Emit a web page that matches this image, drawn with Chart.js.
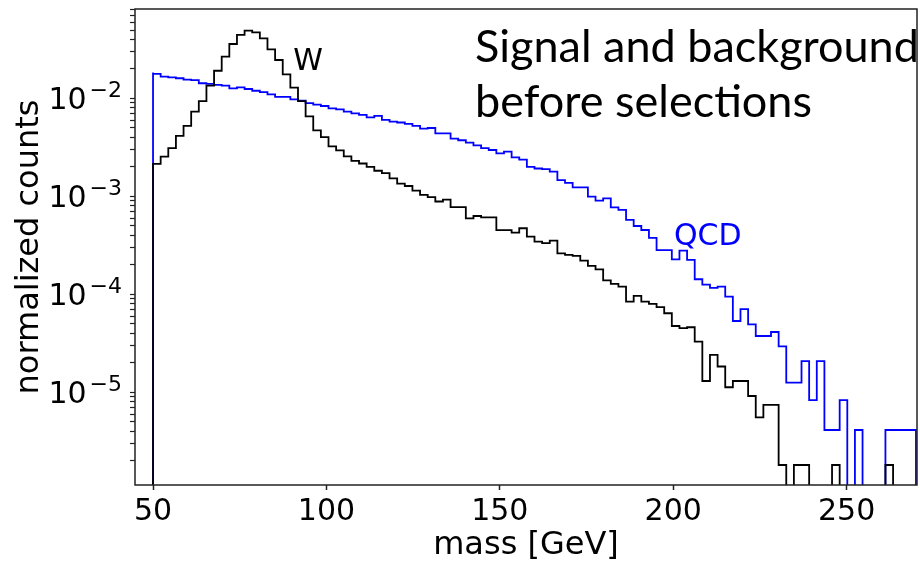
<!DOCTYPE html>
<html>
<head>
<meta charset="utf-8">
<script src="https://cdn.jsdelivr.net/npm/chart.js@4.4.1/dist/chart.umd.min.js"></script>
<style>
  html, body { margin: 0; padding: 0; background: #fff; }
  #wrap { position: relative; width: 920px; height: 565px; }
</style>
</head>
<body>
<div id="wrap"><canvas id="mass-hist"></canvas></div>
<script>
// histogram binning: 100 bins of 2.2 GeV from 50 to 270
var binStart = 50;
var binWidth = 2.2;
var nBins = 100;

// W (signal) normalized counts per bin
var wCounts = [
  1.75e-3, 2.15e-3, 2.55e-3, 3.11e-3, 4.15e-3, 5.25e-3, 7.35e-3, 9.42e-3, 1.35e-2, 1.92e-2,
  2.67e-2, 3.60e-2, 4.45e-2, 4.92e-2, 4.73e-2, 4.11e-2, 3.17e-2, 2.47e-2, 1.76e-2, 1.29e-2,
  9.42e-3, 6.56e-3, 4.72e-3, 4.04e-3, 3.25e-3, 2.96e-3, 2.57e-3, 2.31e-3, 2.17e-3, 2.01e-3,
  1.83e-3, 1.73e-3, 1.53e-3, 1.35e-3, 1.28e-3, 1.15e-3, 1.04e-3, 9.85e-4, 8.89e-4, 9.29e-4,
  7.79e-4, 7.79e-4, 5.97e-4, 6.32e-4, 6.11e-4, 6.11e-4, 4.54e-4, 4.54e-4, 4.28e-4, 4.74e-4,
  3.90e-4, 3.47e-4, 3.34e-4, 3.54e-4, 2.63e-4, 2.54e-4, 2.48e-4, 2.22e-4, 1.96e-4, 1.80e-4,
  1.39e-4, 1.28e-4, 1.20e-4, 8.47e-5, 9.67e-5, 8.47e-5, 8.01e-5, 7.43e-5, 6.43e-5, 4.77e-5,
  4.53e-5, 4.63e-5, 3.31e-5, 1.31e-5, 2.42e-5, 1.84e-5, 1.13e-5, 1.31e-5, 1.31e-5, 9.2e-6,
  5.58e-6, 7.48e-6, 7.48e-6, 1.82e-6, 0, 1.82e-6, 1.82e-6, 0, 0, 0,
  1.82e-6, 0, 0, 0, 0, 0, 0, 1.82e-6, 0, 0
];

// QCD (background) normalized counts per bin
var qcdCounts = [
  1.84e-2, 1.78e-2, 1.67e-2, 1.64e-2, 1.61e-2, 1.56e-2, 1.54e-2, 1.43e-2, 1.41e-2, 1.38e-2,
  1.35e-2, 1.27e-2, 1.30e-2, 1.25e-2, 1.20e-2, 1.16e-2, 1.10e-2, 1.04e-2, 1.04e-2, 9.81e-3,
  9.51e-3, 8.99e-3, 8.65e-3, 8.38e-3, 7.94e-3, 7.74e-3, 7.34e-3, 7.06e-3, 6.79e-3, 6.42e-3,
  6.64e-3, 6.04e-3, 5.81e-3, 5.69e-3, 5.50e-3, 5.25e-3, 4.92e-3, 5.00e-3, 4.41e-3, 4.41e-3,
  3.89e-3, 3.75e-3, 3.54e-3, 3.33e-3, 3.11e-3, 2.98e-3, 2.76e-3, 2.87e-3, 2.51e-3, 2.38e-3,
  2.01e-3, 1.93e-3, 1.90e-3, 1.79e-3, 1.47e-3, 1.38e-3, 1.24e-3, 1.24e-3, 9.97e-4, 9.08e-4,
  9.57e-4, 7.76e-4, 7.29e-4, 5.76e-4, 5.00e-4, 4.55e-4, 3.78e-4, 2.84e-4, 2.84e-4, 2.28e-4,
  2.80e-4, 2.25e-4, 1.43e-4, 1.26e-4, 1.17e-4, 1.20e-4, 9.52e-5, 5.36e-5, 7.10e-5, 4.96e-5,
  3.77e-5, 3.77e-5, 4.14e-5, 2.95e-5, 1.26e-5, 1.26e-5, 2.09e-5, 8.35e-6, 2.09e-5, 4.14e-6,
  4.14e-6, 8.35e-6, 0, 4.14e-6, 0, 0, 0, 4.14e-6, 4.14e-6, 4.14e-6
];

// axis ticks
var xTickValues = [50, 100, 150, 200, 250];
var yTickValues = [1e-5, 1e-4, 1e-3, 1e-2];
var yTickExps = ['\u22125', '\u22124', '\u22123', '\u22122'];

var xMin = 44.8, xMax = 270.3;
var yMin = 1.137e-6, yMax = 0.0819;
var EMPTY = 1e-9; // log axis can't show 0, empty bins drop below the frame

var binEdges = [];
for (var i = 0; i <= nBins; i++) binEdges.push(+(binStart + binWidth * i).toFixed(2));

function histPoints(counts) {
  var pts = [{x: binEdges[0], y: EMPTY}];
  counts.forEach(function(c, i) {
    pts.push({x: binEdges[i], y: c > 0 ? c : EMPTY});
  });
  var last = counts[counts.length - 1];
  pts.push({x: binEdges[nBins], y: last > 0 ? last : EMPTY});
  pts.push({x: binEdges[nBins], y: EMPTY});
  return pts;
}

// minor + major tick marks for the log axis
var yAllTicks = [];
for (var e = -6; e <= -2; e++) {
  for (var m = 1; m <= 9; m++) {
    var v = +(m * Math.pow(10, e)).toPrecision(3);
    if (v >= yMin && v <= yMax) yAllTicks.push(v);
  }
}

var tickFont = {family: 'DejaVu Sans', size: 30};
var titleFont = {family: 'DejaVu Sans', size: 32};

function noPad(s) {
  s.paddingTop = 0; s.paddingBottom = 0; s.paddingLeft = 0; s.paddingRight = 0;
}

var frame = {
  id: 'frame',
  afterDraw: function(chart) {
    var a = chart.chartArea, ctx = chart.ctx;
    ctx.save();
    ctx.strokeStyle = '#222';
    ctx.lineWidth = 1.5;
    ctx.strokeRect(a.left, a.top, a.right - a.left, a.bottom - a.top);
    ctx.restore();
  }
};

// 10^-n labels drawn mathtext style (smaller raised exponent)
var logLabels = {
  id: 'logLabels',
  afterDraw: function(chart) {
    var ctx = chart.ctx, y = chart.scales.y;
    var right = chart.chartArea.left - 13;
    ctx.save();
    ctx.fillStyle = '#000';
    ctx.textAlign = 'right';
    ctx.textBaseline = 'alphabetic';
    yTickValues.forEach(function(v, k) {
      var py = y.getPixelForValue(v) + 11;
      ctx.font = '22px "DejaVu Sans"';
      ctx.fillText(yTickExps[k], right, py - 12);
      var w = ctx.measureText(yTickExps[k]).width;
      ctx.font = '30px "DejaVu Sans"';
      ctx.fillText('10', right - w - 3, py);
    });
    ctx.restore();
  }
};

var notes = {
  id: 'notes',
  afterDraw: function(chart) {
    var ctx = chart.ctx, x = chart.scales.x, y = chart.scales.y;
    ctx.save();
    ctx.textBaseline = 'alphabetic';
    ctx.textAlign = 'left';
    ctx.font = '30px "DejaVu Sans"';
    ctx.fillStyle = '#000';
    ctx.fillText('W', x.getPixelForValue(90.4), y.getPixelForValue(0.0195));
    ctx.fillStyle = '#0000ff';
    ctx.fillText('QCD', x.getPixelForValue(200.2), y.getPixelForValue(3.2e-4));
    // slide caption
    ctx.fillStyle = '#000';
    ctx.font = '45px Lato';
    ctx.fillText('Signal and background', 475, 62);
    ctx.fillText('before selections', 475, 117);
    ctx.restore();
  }
};

var massHist = new Chart(document.getElementById('mass-hist'), {
  type: 'line',
  data: {
    datasets: [
      {
        label: 'W',
        data: histPoints(wCounts),
        borderColor: '#000000',
        borderWidth: 1.8,
        stepped: 'after',
        pointRadius: 0,
        fill: false
      },
      {
        label: 'QCD',
        data: histPoints(qcdCounts),
        borderColor: '#0000ff',
        borderWidth: 1.8,
        stepped: 'after',
        pointRadius: 0,
        fill: false
      }
    ]
  },
  options: {
    responsive: true,
    maintainAspectRatio: false,
    animation: false,
    layout: {padding: {top: 9, right: 3, left: 0, bottom: 0}},
    plugins: {legend: {display: false}, tooltip: {enabled: false}},
    scales: {
      x: {
        type: 'linear',
        min: xMin,
        max: xMax,
        afterBuildTicks: function(s) { s.ticks = xTickValues.map(function(v) { return {value: v}; }); },
        afterFit: function(s) { s.height = 80; noPad(s); },
        border: {display: false},
        grid: {drawOnChartArea: false, tickLength: 5, tickColor: '#222', tickWidth: 1.5},
        ticks: {font: tickFont, color: '#000', padding: 4, maxRotation: 0, autoSkip: false},
        title: {display: true, text: 'mass [GeV]', color: '#000', font: titleFont, padding: {top: 0, bottom: 0}}
      },
      y: {
        type: 'logarithmic',
        min: yMin,
        max: yMax,
        afterBuildTicks: function(s) { s.ticks = yAllTicks.map(function(v) { return {value: v}; }); },
        afterFit: function(s) { s.width = 135; noPad(s); },
        border: {display: false},
        grid: {drawOnChartArea: false, tickLength: 5, tickColor: '#222', tickWidth: 1.2},
        ticks: {
          font: tickFont,
          autoSkip: false,
          callback: function() { return ''; }
        },
        title: {display: true, text: 'normalized counts', color: '#000', font: titleFont, padding: {top: 10, bottom: 0}}
      }
    }
  },
  plugins: [frame, logLabels, notes]
});
</script>
</body>
</html>
